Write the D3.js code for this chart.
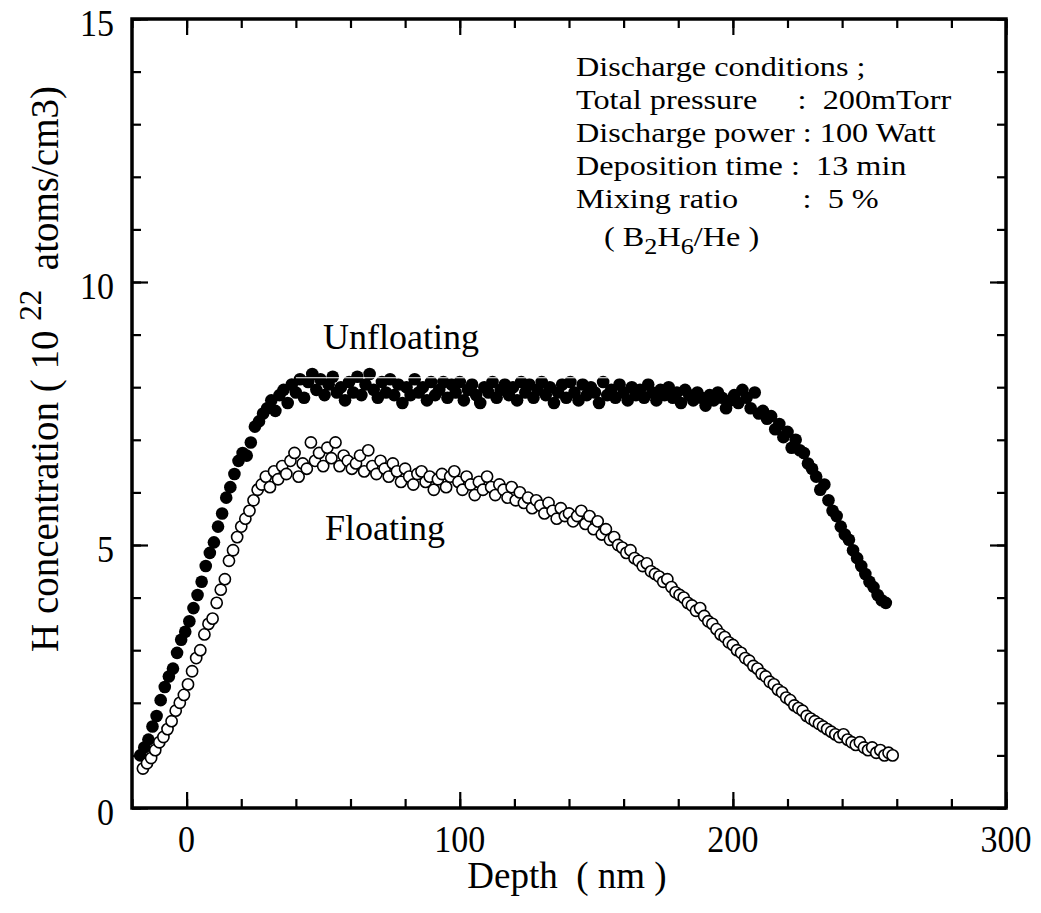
<!DOCTYPE html>
<html>
<head>
<meta charset="utf-8">
<script src="https://cdn.jsdelivr.net/npm/d3@7"></script>
<style>
  body { margin: 0; background: #fff; }
  text { font-family: "Liberation Serif", "Times New Roman", serif; fill: #000; }
</style>
</head>
<body>
<svg id="chart" width="1041" height="913"></svg>
<script>
// depth (nm), H concentration (10^22 atoms/cm3)
var unfloating = [
  [-17,1.0],[-15.5,1.15],[-14,1.3],[-12.5,1.55],[-11,1.75],[-9.5,2.05],[-8,2.3],[-6.5,2.5],[-5,2.65],[-3.5,2.95],
  [-2,3.2],[-0.5,3.35],[1,3.55],[2.5,3.8],[4,4.05],[5.5,4.3],[7,4.6],[8.5,4.85],[10,5.05],[11.5,5.35],
  [13,5.6],[14.5,5.9],[16,6.1],[17.5,6.35],[19,6.6],[20.5,6.75],[22,6.7],[23.5,6.95],[25,7.25],[26.5,7.35],
  [28,7.5],[29.5,7.6],[31,7.75],[32.5,7.55],[34,7.85],[35.5,7.95],[37,7.7],[38.5,8.05],[40,7.9],[41.5,8.15],
  [43,7.8],[44.5,8.1],[46,8.25],[47.5,7.95],[49,8.15],[50.5,7.85],[52,8.05],[53.5,8.2],[55,7.9],[56.5,8.0],
  [58,7.75],[59.5,8.1],[61,7.9],[62.5,8.2],[64,7.85],[65.5,8.05],[67,8.25],[68.5,7.95],[70,7.8],[71.5,8.1],
  [73,7.9],[74.5,8.15],[76,7.85],[77.5,8.05],[79,7.7],[80.5,8.0],[82,7.85],[83.5,8.15],[85,7.9],[86.5,8.0],
  [88,7.75],[89.5,8.1],[91,7.85],[92.5,7.95],[94,8.1],[95.5,7.8],[97,8.05],[98.5,7.9],[100,8.1],[101.5,7.75],
  [103,7.95],[104.5,8.05],[106,7.85],[107.5,7.7],[109,8.0],[110.5,7.9],[112,8.1],[113.5,7.8],[115,7.95],[116.5,8.05],
  [118,7.85],[119.5,8.0],[121,7.75],[122.5,8.1],[124,7.9],[125.5,8.05],[127,7.8],[128.5,7.95],[130,8.1],[131.5,7.85],
  [133,8.0],[134.5,7.7],[136,7.9],[137.5,8.05],[139,7.8],[140.5,8.1],[142,7.9],[143.5,7.75],[145,8.05],[146.5,7.85],
  [148,8.0],[149.5,7.9],[151,7.7],[152.5,8.1],[154,7.85],[155.5,7.95],[157,7.8],[158.5,8.05],[160,7.9],[161.5,7.75],
  [163,8.0],[164.5,7.85],[166,7.95],[167.5,7.8],[169,8.05],[170.5,7.9],[172,7.75],[173.5,7.95],[175,7.85],[176.5,8.0],
  [178,7.8],[179.5,7.9],[181,7.7],[182.5,7.95],[184,7.85],[185.5,7.75],[187,7.9],[188.5,7.8],[190,7.65],[191.5,7.85],
  [193,7.75],[194.5,7.9],[196,7.8],[197.5,7.6],[199,7.75],[200.5,7.85],[202,7.7],[203.5,7.95],[205,7.8],[206.5,7.6],
  [208,7.9],[209.5,7.5],[211,7.55],[212.5,7.4],[214,7.45],[215.5,7.2],[217,7.3],[218.5,7.05],[220,7.15],[221.5,6.85],
  [223,7.0],[224.5,6.8],[226,6.75],[227.5,6.55],[229,6.45],[230.5,6.3],[232,6.05],[233.5,6.15],[235,5.85],[236.5,5.65],
  [238,5.55],[239.5,5.35],[241,5.2],[242.5,5.1],[244,4.9],[245.5,4.75],[247,4.6],[248.5,4.45],[250,4.3],[251.5,4.2],
  [253,4.05],[254.5,3.95],[256,3.9]
];

var floating = [
  [-16,0.75],[-14.5,0.85],[-13,0.95],[-11.5,1.1],[-10,1.25],[-8.5,1.35],[-7,1.5],[-5.5,1.65],[-4,1.85],[-2.5,2.0],
  [-1,2.15],[0.5,2.35],[2,2.6],[3.5,2.85],[5,3.0],[6.5,3.3],[8,3.5],[9.5,3.6],[11,3.9],[12.5,4.15],
  [14,4.35],[15.5,4.7],[17,4.9],[18.5,5.15],[20,5.35],[21.5,5.5],[23,5.65],[24.5,5.85],[26,6.05],[27.5,6.15],
  [29,6.3],[30.5,6.1],[32,6.4],[33.5,6.25],[35,6.5],[36.5,6.35],[38,6.6],[39.5,6.75],[41,6.3],[42.5,6.55],
  [44,6.45],[45.5,6.95],[47,6.6],[48.5,6.75],[50,6.5],[51.5,6.85],[53,6.65],[54.5,6.95],[56,6.5],[57.5,6.7],
  [59,6.6],[60.5,6.45],[62,6.55],[63.5,6.7],[65,6.4],[66.5,6.8],[68,6.5],[69.5,6.35],[71,6.6],[72.5,6.45],
  [74,6.3],[75.5,6.55],[77,6.4],[78.5,6.2],[80,6.45],[81.5,6.3],[83,6.15],[84.5,6.35],[86,6.4],[87.5,6.2],
  [89,6.3],[90.5,6.05],[92,6.25],[93.5,6.35],[95,6.1],[96.5,6.3],[98,6.4],[99.5,6.2],[101,6.05],[102.5,6.3],
  [104,6.15],[105.5,5.95],[107,6.2],[108.5,6.05],[110,6.3],[111.5,6.1],[113,5.95],[114.5,6.15],[116,6.05],[117.5,5.9],
  [119,6.1],[120.5,5.85],[122,6.0],[123.5,5.8],[125,5.9],[126.5,5.7],[128,5.85],[129.5,5.75],[131,5.6],[132.5,5.8],
  [134,5.65],[135.5,5.5],[137,5.7],[138.5,5.55],[140,5.6],[141.5,5.45],[143,5.55],[144.5,5.65],[146,5.4],[147.5,5.55],
  [149,5.3],[150.5,5.45],[152,5.2],[153.5,5.3],[155,5.1],[156.5,5.15],[158,5.0],[159.5,4.95],[161,4.85],[162.5,4.9],
  [164,4.75],[165.5,4.7],[167,4.6],[168.5,4.65],[170,4.5],[171.5,4.45],[173,4.4],[174.5,4.3],[176,4.35],[177.5,4.2],
  [179,4.1],[180.5,4.05],[182,4.0],[183.5,3.9],[185,3.85],[186.5,3.75],[188,3.8],[189.5,3.65],[191,3.55],[192.5,3.5],
  [194,3.4],[195.5,3.3],[197,3.25],[198.5,3.15],[200,3.1],[201.5,3.0],[203,2.95],[204.5,2.85],[206,2.8],[207.5,2.7],
  [209,2.65],[210.5,2.55],[212,2.5],[213.5,2.4],[215,2.35],[216.5,2.25],[218,2.2],[219.5,2.1],[221,2.05],[222.5,1.95],
  [224,1.9],[225.5,1.85],[227,1.75],[228.5,1.7],[230,1.65],[231.5,1.6],[233,1.55],[234.5,1.5],[236,1.45],[237.5,1.4],
  [239,1.35],[240.5,1.4],[242,1.3],[243.5,1.25],[245,1.2],[246.5,1.25],[248,1.15],[249.5,1.1],[251,1.15],[252.5,1.05],
  [254,1.1],[255.5,1.0],[257,1.05],[258.5,1.0]
];

var xTicks = [0, 100, 200, 300];
var yTicks = [0, 5, 10, 15];

var conditions = [
  "Discharge conditions ;",
  "Total pressure\u00a0\u00a0\u00a0\u00a0 :\u00a0 200mTorr",
  "Discharge power : 100 Watt",
  "Deposition time :\u00a0 13 min",
  "Mixing ratio\u00a0\u00a0\u00a0\u00a0\u00a0\u00a0\u00a0 :\u00a0 5 %"
];

var svg = d3.select('#chart');
var m = {left: 132, top: 19, right: 1006, bottom: 808};

var x = d3.scaleLinear().domain([-20, 300]).range([m.left, m.right]);
var y = d3.scaleLinear().domain([0, 15]).range([m.bottom, m.top]);

var g = svg.append('g');

// minor / major ticks on all four sides, pointing inward
function ticks(axis, scale, values, size) {
  return axis(scale).tickValues(values).tickSize(size).tickFormat('');
}
var xMinor = d3.range(-20, 301, 20), yMinor = d3.range(0, 16, 1);

g.append('g').attr('transform', 'translate(0,' + m.bottom + ')')
  .call(ticks(d3.axisTop, x, xMinor, 9));
g.append('g').attr('transform', 'translate(0,' + m.bottom + ')')
  .call(ticks(d3.axisTop, x, xTicks, 16));
g.append('g').attr('transform', 'translate(0,' + m.top + ')')
  .call(ticks(d3.axisBottom, x, xMinor, 9));
g.append('g').attr('transform', 'translate(0,' + m.top + ')')
  .call(ticks(d3.axisBottom, x, xTicks, 16));
g.append('g').attr('transform', 'translate(' + m.left + ',0)')
  .call(ticks(d3.axisRight, y, yMinor, 9));
g.append('g').attr('transform', 'translate(' + m.left + ',0)')
  .call(ticks(d3.axisRight, y, yTicks, 16));
g.append('g').attr('transform', 'translate(' + m.right + ',0)')
  .call(ticks(d3.axisLeft, y, yMinor, 9));
g.append('g').attr('transform', 'translate(' + m.right + ',0)')
  .call(ticks(d3.axisLeft, y, yTicks, 16));
g.selectAll('.domain').remove();
g.selectAll('.tick line').attr('stroke', '#000').attr('stroke-width', 2.2);

// frame
g.append('rect')
  .attr('x', m.left).attr('y', m.top)
  .attr('width', m.right - m.left).attr('height', m.bottom - m.top)
  .attr('fill', 'none').attr('stroke', '#000').attr('stroke-width', 3.5);

// tick labels (the scanned type is a bit narrow)
g.selectAll('.xl').data(xTicks).enter().append('text')
  .attr('transform', d => 'translate(' + x(d) + ',852) scale(0.92,1)')
  .attr('text-anchor', 'middle').attr('font-size', 37)
  .text(d => d);
g.selectAll('.yl').data(yTicks).enter().append('text')
  .attr('transform', d => 'translate(114,' + (y(d) + 17) + ') scale(0.92,1)')
  .attr('text-anchor', 'end').attr('font-size', 37)
  .text(d => d);

// axis titles
svg.append('text')
  .attr('x', 567).attr('y', 888)
  .attr('text-anchor', 'middle').attr('font-size', 37)
  .text('Depth\u00a0 ( nm )');

var yl = svg.append('text')
  .attr('transform', 'translate(58,86) rotate(-90)')
  .attr('text-anchor', 'end').attr('font-size', 39);
yl.append('tspan').text('H concentration ( 10 ');
yl.append('tspan').attr('dy', -17).attr('font-size', 31).text('22');
yl.append('tspan').attr('dy', 17).text('\u00a0 atoms/cm3)');

// data
var pts = svg.append('g');
pts.selectAll('.uf').data(unfloating).enter().append('circle')
  .attr('cx', d => x(d[0])).attr('cy', d => y(d[1])).attr('r', 6.3)
  .attr('fill', '#000');
pts.selectAll('.fl').data(floating).enter().append('circle')
  .attr('cx', d => x(d[0])).attr('cy', d => y(d[1])).attr('r', 5.6)
  .attr('fill', '#fff').attr('stroke', '#000').attr('stroke-width', 1.6);

// scan artifact: thin white line through the plateau
svg.append('line')
  .attr('x1', x(40)).attr('x2', x(190))
  .attr('y1', y(8.18)).attr('y2', y(8.18))
  .attr('stroke', '#fff').attr('stroke-width', 1.2);

// series labels
svg.append('text').attr('x', 323).attr('y', 349).attr('font-size', 36).text('Unfloating');
svg.append('text').attr('x', 325).attr('y', 540).attr('font-size', 36).text('Floating');

// conditions box: tightly set lines, type slightly wide
var cond = svg.append('g');
cond.selectAll('text').data(conditions).enter().append('text')
  .attr('transform', (d, i) => 'translate(576,' + (76 + i * 33) + ') scale(1.14,1)')
  .attr('font-size', 28.3)
  .text(d => d);
var chem = cond.append('text')
  .attr('transform', 'translate(604,246) scale(1.14,1)')
  .attr('font-size', 28.3);
chem.append('tspan').text('( B');
chem.append('tspan').attr('dy', 8).attr('font-size', 23).text('2');
chem.append('tspan').attr('dy', -8).text('H');
chem.append('tspan').attr('dy', 8).attr('font-size', 23).text('6');
chem.append('tspan').attr('dy', -8).text('/He )');
</script>
</body>
</html>
